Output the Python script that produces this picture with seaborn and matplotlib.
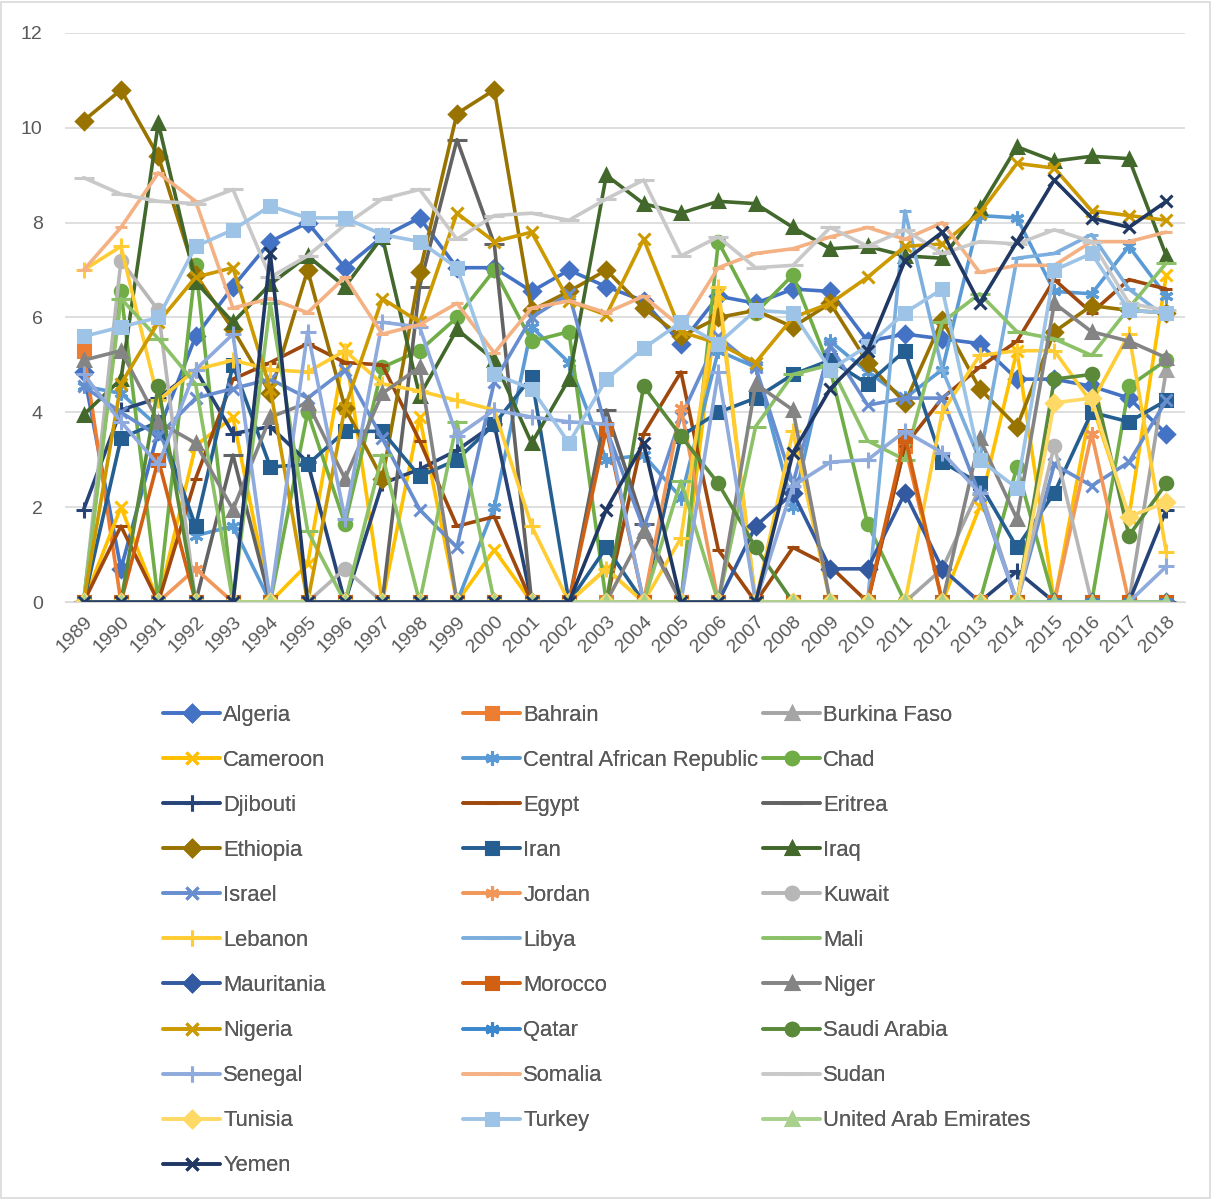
import numpy as np
import matplotlib
matplotlib.use("Agg")
import matplotlib.pyplot as plt
import matplotlib.patches as patches
import seaborn as sns
import pandas as pd

sns.set_style("white")
plt.rcParams['font.family'] = ['Liberation Sans', 'DejaVu Sans']

years = list(range(1989, 2019))

countries = ["Algeria", "Bahrain", "Burkina Faso", "Cameroon", "Central African Republic", "Chad",
             "Djibouti", "Egypt", "Eritrea", "Ethiopia", "Iran", "Iraq", "Israel", "Jordan", "Kuwait",
             "Lebanon", "Libya", "Mali", "Mauritania", "Morocco", "Niger", "Nigeria", "Qatar",
             "Saudi Arabia", "Senegal", "Somalia", "Sudan", "Tunisia", "Turkey",
             "United Arab Emirates", "Yemen"]

algeria = [4.85, 0.7, 3.6, 5.6, 6.65, 7.6, 8.0, 7.05, 7.7, 8.1, 7.05, 7.05, 6.55, 7.0, 6.65,
           6.35, 5.45, 6.45, 6.3, 6.6, 6.55, 5.5, 5.65, 5.55, 5.45, 4.7, 4.7, 4.55, 4.3, 3.55]
bahrain = [5.3, 0, 0, 0, 0, 0, 0, 0, 0, 0, 0, 0, 0, 0, 0,
           0, 0, 0, 0, 0, 0, 0, 3.3, 0, 0, 0, 0, 0, 0, 0]
burkina = [0, 0, 0, 0, 0, 0, 0, 0, 0, 0, 0, 0, 0, 0, 0,
           0, 0, 0, 0, 0, 0, 0, 0, 0.7, 2.4, 0, 0, 0, 0, 4.9]
cameroon = [0, 2.0, 0, 3.3, 3.9, 0, 0.8, 5.35, 0, 3.9, 0, 1.1, 0, 0, 0.7,
            0, 0, 6.5, 0, 0, 0, 0, 0, 0, 2.0, 5.3, 0, 4.2, 1.8, 6.9]
car = [4.55, 4.4, 3.7, 1.4, 1.6, 0, 0, 0, 0, 0, 0, 2.0, 5.8, 5.05, 3.0,
       3.1, 2.2, 5.3, 4.95, 2.0, 5.5, 4.85, 4.3, 4.9, 8.15, 8.1, 6.55, 6.5, 7.5, 6.45]
chad = [0, 6.55, 0, 7.1, 0, 0, 4.0, 1.65, 4.95, 5.3, 6.0, 7.0, 5.5, 5.7, 0,
        0, 0, 7.6, 6.1, 6.9, 4.9, 1.65, 0, 0, 0, 2.85, 0, 0, 4.55, 5.1]
djibouti = [1.95, 4.05, 4.3, 4.9, 3.55, 3.7, 2.95, 0, 2.5, 2.8, 3.2, 3.75, 0, 0, 0,
            0, 0, 0, 0, 0, 0, 0, 0, 0, 0, 0.65, 0, 0, 0, 1.95]
egypt = [0, 1.6, 0, 2.6, 4.7, 5.05, 5.45, 5.05, 5.0, 3.4, 1.6, 1.8, 0, 0, 0,
         3.55, 4.85, 1.1, 0, 1.15, 0.75, 0, 3.3, 4.3, 4.95, 5.5, 6.8, 6.1, 6.8, 6.6]
eritrea = [0, 0, 0, 0, 3.1, 0, 0, 0, 0, 6.65, 9.75, 7.55, 0, 0, 4.05,
           1.65, 0, 0, 0, 0, 0, 0, 0, 0, 0, 0, 0, 0, 0, 0]
ethiopia = [10.15, 10.8, 9.4, 6.9, 5.75, 4.4, 7.0, 4.1, 2.6, 6.95, 10.3, 10.8, 6.15, 6.55, 7.0,
            6.2, 5.6, 6.0, 6.15, 5.8, 6.3, 5.05, 4.2, 5.95, 4.5, 3.7, 5.7, 6.25, 6.15, 6.1]
iran = [0, 3.45, 3.8, 1.6, 5.0, 2.85, 2.9, 3.6, 3.6, 2.65, 3.0, 3.75, 4.75, 0, 1.15,
        0, 3.5, 4.0, 4.3, 4.8, 5.1, 4.6, 5.3, 2.95, 2.5, 1.15, 2.3, 4.0, 3.8, 4.25]
iraq = [3.95, 4.7, 10.1, 6.75, 5.9, 6.7, 7.3, 6.65, 7.7, 4.35, 5.75, 5.1, 3.35, 4.7, 9.0,
        8.4, 8.2, 8.45, 8.4, 7.9, 7.45, 7.5, 7.3, 7.25, 8.3, 9.6, 9.3, 9.4, 9.35, 7.3]
israel = [4.55, 4.0, 3.5, 4.3, 4.5, 4.7, 4.3, 4.9, 3.45, 1.95, 1.15, 4.65, 6.0, 6.5, 3.65,
          1.55, 3.9, 5.6, 4.95, 2.5, 5.4, 4.15, 4.3, 4.3, 2.25, 0, 2.9, 2.45, 2.95, 4.25]
jordan = [0, 0, 0, 0.7, 0, 0, 0, 0, 0, 0, 0, 0, 0, 0, 0,
          0, 4.1, 0, 0, 0, 0, 0, 0, 0, 0, 0, 0, 3.55, 0, 0]
kuwait = [0, 7.2, 6.15, 0, 0, 0, 0, 0.7, 0, 0, 0, 0, 0, 0, 0,
          0, 0, 0, 0, 0, 0, 0, 0, 0, 0, 0, 3.3, 0, 0, 0]
lebanon = [7.0, 7.5, 4.25, 4.9, 5.1, 4.9, 4.85, 5.3, 4.6, 4.45, 4.25, 4.05, 1.6, 0, 0.7,
           0, 1.35, 6.65, 0, 3.6, 0, 0, 0, 4.0, 5.2, 5.3, 5.3, 4.2, 5.65, 1.05]
libya = [0, 0, 0, 0, 0, 0, 0, 0, 0, 0, 0, 0, 0, 0, 0,
         0, 0, 0, 0, 0, 0, 0, 8.25, 4.9, 3.0, 7.25, 7.35, 7.75, 6.6, 6.0]
mali = [0, 6.4, 5.55, 4.6, 0, 6.3, 1.5, 0, 3.1, 0, 3.8, 0, 0, 0, 0,
        0, 2.55, 0, 3.7, 4.8, 5.0, 3.4, 3.0, 5.9, 6.5, 5.7, 5.55, 5.2, 6.2, 7.15]
mauritania = [0, 0, 0, 0, 0, 0, 0, 0, 0, 0, 0, 0, 0, 0, 0,
              0, 0, 0, 1.6, 2.3, 0.7, 0.7, 2.3, 0.7, 0, 0, 0, 0, 0, 0]
morocco = [0, 0, 3.0, 0, 0, 0, 0, 0, 0, 0, 0, 0, 0, 0, 3.65,
           0, 0, 0, 0, 0, 0, 0, 3.5, 0, 0, 0, 0, 0, 0, 0]
niger = [5.1, 5.3, 3.8, 3.35, 1.95, 3.9, 4.2, 2.6, 4.4, 4.95, 0, 0, 0, 0, 0,
         1.5, 0, 0, 4.6, 4.05, 0, 0, 0, 0, 3.45, 1.75, 6.3, 5.7, 5.5, 5.15]
nigeria = [0, 4.6, 5.9, 6.85, 7.05, 4.5, 0, 4.1, 6.4, 5.9, 8.2, 7.6, 7.8, 6.35, 6.05,
           7.65, 5.7, 5.45, 5.05, 6.0, 6.3, 6.85, 7.5, 7.55, 8.2, 9.25, 9.15, 8.25, 8.15, 8.05]
qatar = [0] * 30
saudi = [0, 0, 4.55, 0, 0, 0, 0, 0, 0, 0, 0, 0, 0, 0, 0,
         4.55, 3.5, 2.5, 1.15, 0, 0, 0, 0, 0, 0, 0, 4.7, 4.8, 1.4, 2.5]
senegal = [4.8, 3.8, 2.9, 4.9, 5.65, 0, 5.7, 1.75, 5.9, 5.8, 3.5, 4.05, 3.9, 3.8, 3.75,
           0, 0, 4.85, 0, 2.45, 2.95, 3.0, 3.6, 3.15, 2.3, 0, 0, 0, 0, 0.75]
somalia = [7.0, 7.9, 9.05, 8.45, 6.2, 6.4, 6.1, 6.85, 5.65, 5.85, 6.3, 5.25, 6.2, 6.35, 6.1,
           6.45, 5.8, 7.05, 7.35, 7.45, 7.7, 7.9, 7.65, 8.0, 6.95, 7.1, 7.1, 7.6, 7.6, 7.8]
sudan = [8.95, 8.6, 8.45, 8.4, 8.7, 6.85, 7.3, 7.95, 8.5, 8.7, 7.65, 8.15, 8.2, 8.05, 8.5,
         8.9, 7.3, 7.7, 7.05, 7.1, 7.9, 7.5, 7.85, 7.35, 7.6, 7.55, 7.85, 7.6, 6.3, 6.15]
tunisia = [0, 0, 0, 0, 0, 0, 0, 0, 0, 0, 0, 0, 0, 0, 0,
           0, 0, 0, 0, 0, 0, 0, 0, 0, 0, 0, 4.2, 4.3, 1.8, 2.1]
turkey = [5.6, 5.8, 6.0, 7.5, 7.85, 8.35, 8.1, 8.1, 7.75, 7.6, 7.05, 4.8, 4.5, 3.35, 4.7,
          5.35, 5.9, 5.45, 6.15, 6.1, 4.9, 5.4, 6.1, 6.6, 3.0, 2.4, 7.0, 7.35, 6.15, 6.1]
uae = [0] * 30
yemen = [0, 0, 0, 0, 0, 7.35, 0, 0, 0, 0, 0, 0, 0, 0, 1.95,
         3.35, 0, 0, 0, 3.15, 4.5, 5.3, 7.2, 7.8, 6.3, 7.6, 8.9, 8.1, 7.9, 8.45]

values = [algeria, bahrain, burkina, cameroon, car, chad, djibouti, egypt, eritrea, ethiopia,
          iran, iraq, israel, jordan, kuwait, lebanon, libya, mali, mauritania, morocco, niger,
          nigeria, qatar, saudi, senegal, somalia, sudan, tunisia, turkey, uae, yemen]

# excel office palette with its shade variants
colors = ["#4472C4", "#ED7D31", "#A5A5A5", "#FFC000", "#5B9BD5", "#70AD47",
          "#264478", "#9E480E", "#636363", "#997300", "#255E91", "#43682B",
          "#698ED0", "#F1975A", "#B7B7B7", "#FFCD33", "#7CAFDD", "#8CC168",
          "#335AA1", "#D26012", "#848484", "#CC9A00", "#3A87CD", "#5A8A39",
          "#8FAADC", "#F4B183", "#C9C9C9", "#FFD966", "#9DC3E6", "#A9D18E",
          "#203864"]
markers = ["D", "s", "^", "x", (6, 2, 0), "o", "+", "_", "_"] * 4
msizes = {"D": 8, "s": 9, "^": 9, "x": 9, "o": 9, "+": 11, "_": 8}

fig = plt.figure(figsize=(12.12, 11.99), dpi=100)
ax = fig.add_axes([0.0536, 0.4979, 0.9241, 0.4746])

for i, name in enumerate(countries):
    m = markers[i]
    long_dash = (i % 9 == 8)
    ms = 14 if long_dash else msizes.get(m, 10) if isinstance(m, str) else 10
    df = pd.DataFrame({"x": np.arange(len(years)), "y": values[i]})
    sns.lineplot(data=df, x="x", y="y", ax=ax, color=colors[i], label=name, lw=2.6,
                 marker=m, markersize=ms, markeredgewidth=2.2, markeredgecolor=colors[i],
                 markerfacecolor=colors[i], errorbar=None, sort=False)

handles, labels = ax.get_legend_handles_labels()
if ax.get_legend() is not None:
    ax.get_legend().remove()

ax.set_xlim(-0.5, len(years) - 0.5)
ax.set_ylim(0, 12)
ax.set_yticks(range(0, 13, 2))
ax.set_xticks(range(len(years)))
ax.set_xticklabels([str(y) for y in years], rotation=45, ha="right", rotation_mode="anchor")
ax.tick_params(axis="both", length=0, labelsize=14, labelcolor="#595959")
ax.tick_params(axis="x", pad=8)
ax.tick_params(axis="y", pad=16)
ax.set_xlabel("")
ax.set_ylabel("")
ax.grid(axis="y", color="#D9D9D9", lw=1.2)
ax.set_axisbelow(True)
for s in ["top", "right", "left"]:
    ax.spines[s].set_visible(False)
ax.spines["bottom"].set_color("#D9D9D9")

# legend laid out row by row like excel, three separate columns
col_x = [163, 463, 763]
for c in range(3):
    h = handles[c::3]
    l = labels[c::3]
    leg = fig.legend(h, l, loc="upper left", bbox_to_anchor=(col_x[c] / 1212, 1 - 705 / 1199),
                     frameon=False, fontsize=15.8, handlelength=2.6, handletextpad=0.15,
                     labelspacing=1.095, borderpad=0, borderaxespad=0, labelcolor="#595959")
    fig.add_artist(leg)

fig.add_artist(patches.Rectangle((0.001, 0.001), 0.997, 0.997, transform=fig.transFigure,
                                 fill=False, edgecolor="#D9D9D9", lw=1.2))

fig.savefig("out.png", dpi=100)
